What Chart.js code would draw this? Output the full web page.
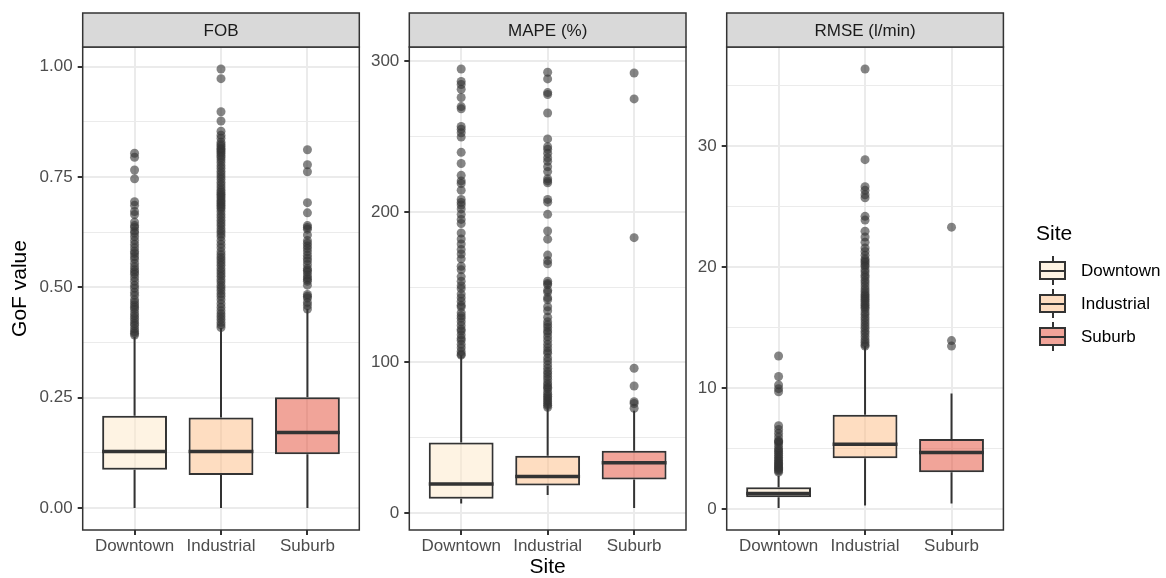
<!DOCTYPE html>
<html>
<head>
<meta charset="utf-8">
<script src="https://cdn.jsdelivr.net/npm/chart.js@4.4.1/dist/chart.umd.min.js"></script>
<style>
  html, body { margin: 0; padding: 0; background: #fff; }
  #wrap { position: relative; width: 1166px; height: 578px; overflow: hidden;
          font-family: "Liberation Sans", Arial, Helvetica, sans-serif; }
  #wrap canvas { position: absolute; left: 0; top: 0; }
  .lg { position: absolute; box-sizing: border-box; }
  .lg-text { position: absolute; white-space: nowrap; color: #000; }
</style>
</head>
<body>
<div id="wrap">
  <canvas id="fob" width="1166" height="578"></canvas>
  <canvas id="mape" width="1166" height="578"></canvas>
  <canvas id="rmse" width="1166" height="578"></canvas>
</div>
<script>
// categories
const SITES = ['Downtown', 'Industrial', 'Suburb'];
const SITE_FILL = ['rgba(254, 232, 200, 0.5)', 'rgba(253, 187, 132, 0.5)', 'rgba(227, 74, 51, 0.5)'];

// FOB panel
const FOB_LOWER = [0, 0, 0];
const FOB_Q1 = [0.087, 0.075, 0.122];
const FOB_MEDIAN = [0.128, 0.128, 0.171];
const FOB_Q3 = [0.209, 0.205, 0.251];
const FOB_UPPER = [0.388, 0.408, 0.451];
const FOB_OUT_DOWNTOWN = [0.804, 0.795, 0.766, 0.746, 0.694, 0.686, 0.672, 0.665, 0.648, 0.640, 0.636, 0.628,
  0.623, 0.615, 0.606, 0.598, 0.590, 0.582, 0.577, 0.570, 0.564, 0.555, 0.547, 0.540, 0.535, 0.530, 0.522,
  0.514, 0.505, 0.498, 0.489, 0.482, 0.472, 0.466, 0.460, 0.455, 0.450, 0.442, 0.436, 0.430, 0.424, 0.418,
  0.413, 0.406, 0.400, 0.396, 0.392];
const FOB_OUT_INDUSTRIAL = [0.995, 0.973, 0.898, 0.877, 0.854, 0.845, 0.838, 0.829, 0.824, 0.820, 0.815, 0.812,
  0.808, 0.804, 0.799, 0.795, 0.789, 0.783, 0.776, 0.770, 0.763, 0.757, 0.751, 0.745, 0.738, 0.732, 0.726,
  0.720, 0.715, 0.711, 0.707, 0.703, 0.698, 0.694, 0.690, 0.686, 0.682, 0.678, 0.672, 0.665, 0.659, 0.652,
  0.646, 0.640, 0.633, 0.627, 0.621, 0.615, 0.606, 0.598, 0.590, 0.581, 0.574, 0.568, 0.562, 0.556, 0.550,
  0.543, 0.537, 0.531, 0.525, 0.518, 0.512, 0.505, 0.499, 0.493, 0.486, 0.480, 0.472, 0.463, 0.455, 0.447,
  0.440, 0.434, 0.428, 0.421, 0.415, 0.409];
const FOB_OUT_SUBURB = [0.812, 0.778, 0.762, 0.692, 0.669, 0.640, 0.636, 0.632, 0.619, 0.606, 0.600, 0.594,
  0.588, 0.581, 0.573, 0.566, 0.560, 0.552, 0.543, 0.539, 0.535, 0.528, 0.522, 0.518, 0.514, 0.505, 0.484,
  0.480, 0.476, 0.466, 0.459, 0.451];
const FOB_TICKS = [0, 0.25, 0.5, 0.75, 1];

// MAPE panel
const MAPE_LOWER = [6.2, 11.8, 3.2];
const MAPE_Q1 = [9.4, 18.2, 22.2];
const MAPE_MEDIAN = [19.2, 24.2, 33.3];
const MAPE_Q3 = [46.8, 38.0, 41.2];
const MAPE_UPPER = [104.8, 72.7, 67.8];
const MAPE_OUT_DOWNTOWN = [295, 286.7, 284.7, 281.5, 276, 270, 268.5, 256.8, 255, 252.6, 249.7, 239.6, 232.2,
  224.3, 220.6, 218.9, 214.4, 208.3, 206.3, 204.6, 202, 198.4, 195, 192.3, 186, 182, 178.7, 175, 172, 168.8,
  163.9, 161.5, 157, 154, 151, 149, 145.4, 143, 140.5, 138, 136.8, 133, 131, 129.4, 127, 124.5, 122, 120.8,
  118.3, 116, 114.6, 112, 109.7, 107.2, 105.5, 104.8];
const MAPE_OUT_INDUSTRIAL = [292.8, 288.4, 279.3, 278, 265.7, 248.5, 243.3, 241.6, 239, 236, 233.7, 230, 226.8,
  222, 220.6, 219.4, 208.3, 206.5, 198.4, 187.3, 181.9, 171.3, 167.6, 165.5, 154, 152.5, 151.6, 148, 146.7,
  143, 141.7, 137, 134.3, 130, 127, 125, 123.2, 121, 119.5, 117, 114.6, 112, 109.7, 107.5, 106, 103, 101,
  98.5, 96.1, 94, 92.4, 90.5, 88.7, 86.5, 85, 83.5, 82.6, 80.5, 78.9, 77.5, 76.4, 75, 73.9, 72.5, 71.5, 70.2];
const MAPE_OUT_SUBURB = [292.3, 275.1, 182.9, 96.1, 84.3, 73.9, 72.7, 69.5];
const MAPE_TICKS = [0, 100, 200, 300];

// RMSE panel
const RMSE_LOWER = [0.09, 0.31, 0.46];
const RMSE_Q1 = [0.98, 4.2, 3.06];
const RMSE_MEDIAN = [1.29, 5.36, 4.69];
const RMSE_Q3 = [1.81, 7.81, 5.79];
const RMSE_UPPER = [2.76, 13.48, 9.56];
const RMSE_OUT_DOWNTOWN = [12.66, 10.97, 10.27, 9.96, 9.71, 6.9, 6.59, 6.28, 5.98, 5.67, 5.6, 5.52, 5.3, 5.06,
  4.9, 4.75, 4.6, 4.44, 4.3, 4.14, 4.0, 3.89, 3.78, 3.68, 3.57, 3.46, 3.37, 3.28, 3.17, 3.06];
const RMSE_OUT_INDUSTRIAL = [36.4, 28.9, 26.66, 26.36, 26.0, 25.74, 24.21, 23.9, 22.98, 22.5, 22.07, 21.6, 21.3,
  21, 20.7, 20.55, 20.4, 20.2, 20.07, 19.8, 19.6, 19.35, 19.15, 18.9, 18.7, 18.45, 18.2, 18.0, 17.8, 17.65,
  17.5, 17.35, 17.2, 17.0, 16.86, 16.7, 16.55, 16.3, 16.09, 15.85, 15.63, 15.4, 15.17, 14.95, 14.7, 14.5,
  14.25, 14.0, 13.8, 13.6, 13.48];
const RMSE_OUT_SUBURB = [23.32, 13.94, 13.48];
const RMSE_TICKS = [0, 10, 20, 30];

const FONT = '"Liberation Sans", Arial, Helvetica, sans-serif';
const INK = '#333333';
const BOX_HALF = 0.375;
Chart.defaults.font.family = FONT;

// strip on top + panel border, like ggplot facets
const panelFrame = {
  id: 'panelFrame',
  afterDatasetsDraw(chart, args, opts) {
    const { ctx, chartArea: a } = chart;
    const stripTop = 13;
    ctx.save();
    ctx.lineWidth = 1.5;
    ctx.strokeStyle = INK;
    ctx.strokeRect(a.left, a.top, a.right - a.left, a.bottom - a.top);
    ctx.fillStyle = '#d9d9d9';
    ctx.fillRect(a.left, stripTop, a.right - a.left, a.top - stripTop);
    ctx.strokeRect(a.left, stripTop, a.right - a.left, a.top - stripTop);
    ctx.fillStyle = '#1a1a1a';
    ctx.font = '17px ' + FONT;
    ctx.textAlign = 'center';
    ctx.textBaseline = 'middle';
    ctx.fillText(opts.text, (a.left + a.right) / 2, (stripTop + a.top) / 2 + 1);
    ctx.restore();
  }
};

function makePanel(id, cfg) {
  const whiskers = [], medians = [], points = [];
  SITES.forEach((s, i) => {
    const x = i + 1;
    whiskers.push({ x, y: cfg.q3[i] }, { x, y: cfg.upper[i] }, { x, y: null },
                  { x, y: cfg.q1[i] }, { x, y: cfg.lower[i] }, { x, y: null });
    medians.push({ x: x - BOX_HALF, y: cfg.median[i] }, { x: x + BOX_HALF, y: cfg.median[i] },
                 { x: x + BOX_HALF, y: null });
    cfg.outliers[i].forEach(v => points.push({ x, y: v }));
  });

  // ggplot-style range: data span plus 5% each side
  const all = cfg.lower.concat(...cfg.outliers, cfg.upper);
  const lo = Math.min(...all), hi = Math.max(...all);
  const pad = (hi - lo) * 0.05;

  const step = cfg.ticks[1] - cfg.ticks[0];
  const yTicks = [];
  cfg.ticks.forEach(t => {
    yTicks.push({ value: t, minor: false });
    yTicks.push({ value: t + step / 2, minor: true });
  });
  yTicks.unshift({ value: cfg.ticks[0] - step / 2, minor: true });
  const shownTicks = yTicks.filter(t => t.value >= lo - pad && t.value <= hi + pad);

  return new Chart(document.getElementById(id), {
    type: 'bar',
    data: {
      datasets: [
        { type: 'line', data: whiskers, borderColor: INK, borderWidth: 2, pointRadius: 0,
          spanGaps: false, order: 3 },
        { type: 'bar', data: SITES.map((s, i) => ({ x: i + 1, y: [cfg.q1[i], cfg.q3[i]] })),
          backgroundColor: SITE_FILL, borderColor: INK, borderWidth: 2, borderSkipped: false,
          categoryPercentage: 0.75, barPercentage: 1, order: 2 },
        { type: 'line', data: medians, borderColor: INK, borderWidth: 3.5, pointRadius: 0,
          spanGaps: false, borderCapStyle: 'butt', order: 1 },
        { type: 'scatter', data: points, backgroundColor: 'rgba(51, 51, 51, 0.6)', borderWidth: 0,
          pointRadius: 4.5, order: 0 }
      ]
    },
    options: {
      responsive: false,
      animation: false,
      events: [],
      layout: { padding: { left: cfg.left - cfg.axisWidth, right: 1166 - cfg.right, top: 47, bottom: 0 } },
      plugins: { legend: { display: false }, tooltip: { enabled: false }, panelFrame: { text: cfg.strip } },
      scales: {
        x: {
          type: 'linear', min: 0.4, max: 3.6, offset: false,
          afterFit: s => { s.height = 48; },
          afterBuildTicks: s => { s.ticks = SITES.map((n, i) => ({ value: i + 1 })); },
          ticks: { autoSkip: false, maxRotation: 0, padding: 1, color: '#4d4d4d', font: { size: 17 },
                   callback: v => SITES[v - 1] },
          grid: { offset: false, color: '#ebebeb', lineWidth: 2, tickLength: 5, tickColor: INK, tickWidth: 2 },
          border: { display: false },
          title: { display: !!cfg.xTitle, text: cfg.xTitle, color: '#000',
                   font: { size: 21, lineHeight: 1 }, padding: { top: 0, bottom: 0 } }
        },
        y: {
          type: 'linear', min: lo - pad, max: hi + pad,
          afterFit: s => { s.width = cfg.axisWidth; },
          afterBuildTicks: s => { s.ticks = shownTicks.map(t => ({ value: t.value, minor: t.minor })); },
          ticks: { autoSkip: false, padding: 5, color: '#4d4d4d', font: { size: 17 },
                   callback: (v, i, ticks) => ticks[i].minor ? '' : cfg.format(v) },
          grid: {
            color: '#ebebeb',
            lineWidth: c => (c.tick && c.tick.minor) ? 1 : 2,
            tickLength: 5,
            tickColor: c => (c.tick && c.tick.minor) ? 'rgba(0,0,0,0)' : INK,
            tickWidth: 2
          },
          border: { display: false },
          title: { display: !!cfg.yTitle, text: cfg.yTitle, color: '#000',
                   font: { size: 21, lineHeight: 1.2 }, padding: { top: 8, bottom: 0 } }
        }
      }
    },
    plugins: [panelFrame]
  });
}

makePanel('fob', {
  strip: 'FOB', left: 82.7, right: 359.3, axisWidth: 82.7, yTitle: 'GoF value',
  lower: FOB_LOWER, q1: FOB_Q1, median: FOB_MEDIAN, q3: FOB_Q3, upper: FOB_UPPER,
  outliers: [FOB_OUT_DOWNTOWN, FOB_OUT_INDUSTRIAL, FOB_OUT_SUBURB],
  ticks: FOB_TICKS, format: v => v.toFixed(2)
});
makePanel('mape', {
  strip: 'MAPE (%)', left: 409.3, right: 686, axisWidth: 50, xTitle: 'Site',
  lower: MAPE_LOWER, q1: MAPE_Q1, median: MAPE_MEDIAN, q3: MAPE_Q3, upper: MAPE_UPPER,
  outliers: [MAPE_OUT_DOWNTOWN, MAPE_OUT_INDUSTRIAL, MAPE_OUT_SUBURB],
  ticks: MAPE_TICKS, format: v => String(v)
});
makePanel('rmse', {
  strip: 'RMSE (l/min)', left: 726.7, right: 1003.4, axisWidth: 50,
  lower: RMSE_LOWER, q1: RMSE_Q1, median: RMSE_MEDIAN, q3: RMSE_Q3, upper: RMSE_UPPER,
  outliers: [RMSE_OUT_DOWNTOWN, RMSE_OUT_INDUSTRIAL, RMSE_OUT_SUBURB],
  ticks: RMSE_TICKS, format: v => String(v)
});

// legend, drawn as html next to the panels
const wrap = document.getElementById('wrap');
function addEl(cls, css, text) {
  const el = document.createElement('div');
  el.className = cls;
  Object.assign(el.style, css);
  if (text) el.textContent = text;
  wrap.appendChild(el);
  return el;
}
addEl('lg-text', { left: '1036px', top: '220px', fontSize: '21px', lineHeight: '26px' }, 'Site');
SITES.forEach((name, i) => {
  const cy = 271 + i * 33;
  addEl('lg', { left: '1051.7px', top: (cy - 15) + 'px', width: '2px', height: '6px', background: INK });
  addEl('lg', { left: '1051.7px', top: (cy + 8) + 'px', width: '2px', height: '6px', background: INK });
  addEl('lg', { left: '1039px', top: (cy - 10) + 'px', width: '27px', height: '19px',
                border: '2px solid ' + INK, background: SITE_FILL[i] });
  addEl('lg', { left: '1039px', top: (cy - 1) + 'px', width: '27px', height: '2px', background: INK });
  addEl('lg-text', { left: '1081px', top: (cy - 11) + 'px', fontSize: '17px', lineHeight: '22px' }, name);
});
</script>
</body>
</html>
